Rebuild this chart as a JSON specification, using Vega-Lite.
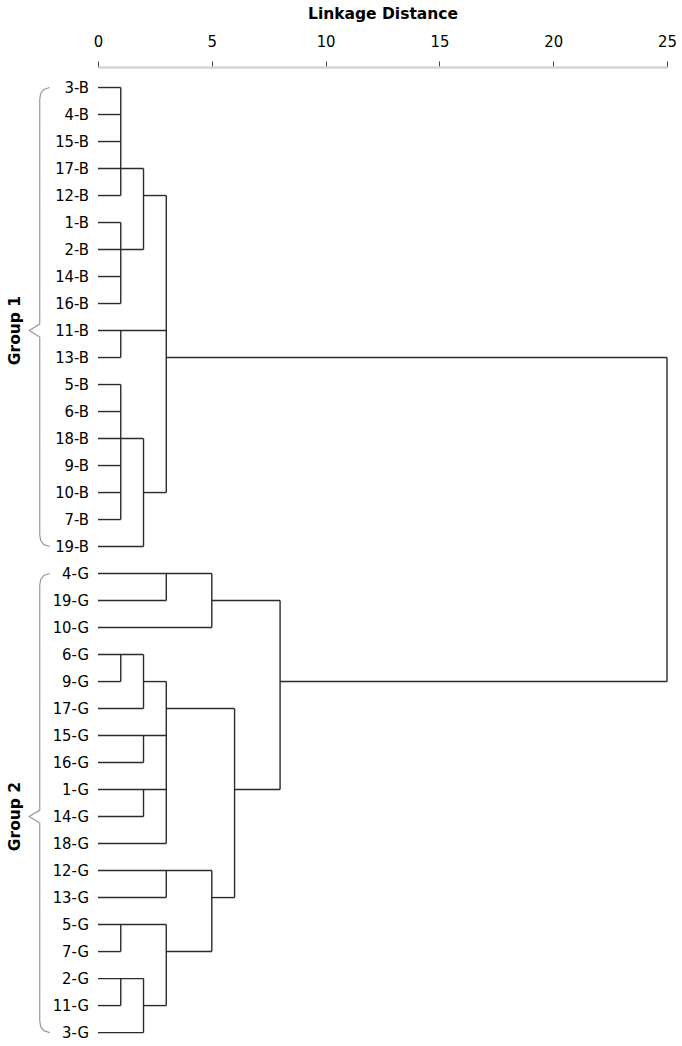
{
  "$schema": "https://vega.github.io/schema/vega-lite/v6.json",
  "width": 569,
  "height": 978,
  "autosize": "none",
  "padding": {"left": 98, "top": 67, "right": 15, "bottom": 1},
  "background": "white",
  "config": {"view": {"stroke": null}, "font": "DejaVu Sans"},
  "datasets": {
    "seg": [
      {"x": 0, "x2": 1, "y": 0, "y2": 0},
      {"x": 0, "x2": 1, "y": 1, "y2": 1},
      {"x": 0, "x2": 1, "y": 2, "y2": 2},
      {"x": 0, "x2": 2, "y": 3, "y2": 3},
      {"x": 0, "x2": 1, "y": 4, "y2": 4},
      {"x": 2, "x2": 3, "y": 4, "y2": 4},
      {"x": 0, "x2": 1, "y": 5, "y2": 5},
      {"x": 0, "x2": 2, "y": 6, "y2": 6},
      {"x": 0, "x2": 1, "y": 7, "y2": 7},
      {"x": 0, "x2": 1, "y": 8, "y2": 8},
      {"x": 0, "x2": 3, "y": 9, "y2": 9},
      {"x": 0, "x2": 1, "y": 10, "y2": 10},
      {"x": 3, "x2": 25, "y": 10, "y2": 10},
      {"x": 0, "x2": 1, "y": 11, "y2": 11},
      {"x": 0, "x2": 1, "y": 12, "y2": 12},
      {"x": 0, "x2": 2, "y": 13, "y2": 13},
      {"x": 0, "x2": 1, "y": 14, "y2": 14},
      {"x": 0, "x2": 1, "y": 15, "y2": 15},
      {"x": 2, "x2": 3, "y": 15, "y2": 15},
      {"x": 0, "x2": 1, "y": 16, "y2": 16},
      {"x": 0, "x2": 2, "y": 17, "y2": 17},
      {"x": 1, "x2": 1, "y": 0, "y2": 4},
      {"x": 1, "x2": 1, "y": 5, "y2": 8},
      {"x": 1, "x2": 1, "y": 9, "y2": 10},
      {"x": 1, "x2": 1, "y": 11, "y2": 16},
      {"x": 2, "x2": 2, "y": 3, "y2": 6},
      {"x": 2, "x2": 2, "y": 13, "y2": 17},
      {"x": 3, "x2": 3, "y": 4, "y2": 15},
      {"x": 25, "x2": 25, "y": 10, "y2": 22},
      {"x": 0, "x2": 5, "y": 18, "y2": 18},
      {"x": 0, "x2": 3, "y": 19, "y2": 19},
      {"x": 5, "x2": 8, "y": 19, "y2": 19},
      {"x": 0, "x2": 5, "y": 20, "y2": 20},
      {"x": 0, "x2": 2, "y": 21, "y2": 21},
      {"x": 0, "x2": 1, "y": 22, "y2": 22},
      {"x": 2, "x2": 3, "y": 22, "y2": 22},
      {"x": 8, "x2": 25, "y": 22, "y2": 22},
      {"x": 0, "x2": 2, "y": 23, "y2": 23},
      {"x": 3, "x2": 6, "y": 23, "y2": 23},
      {"x": 0, "x2": 3, "y": 24, "y2": 24},
      {"x": 0, "x2": 2, "y": 25, "y2": 25},
      {"x": 0, "x2": 3, "y": 26, "y2": 26},
      {"x": 6, "x2": 8, "y": 26, "y2": 26},
      {"x": 0, "x2": 2, "y": 27, "y2": 27},
      {"x": 0, "x2": 3, "y": 28, "y2": 28},
      {"x": 0, "x2": 5, "y": 29, "y2": 29},
      {"x": 0, "x2": 3, "y": 30, "y2": 30},
      {"x": 5, "x2": 6, "y": 30, "y2": 30},
      {"x": 0, "x2": 3, "y": 31, "y2": 31},
      {"x": 0, "x2": 1, "y": 32, "y2": 32},
      {"x": 3, "x2": 5, "y": 32, "y2": 32},
      {"x": 0, "x2": 2, "y": 33, "y2": 33},
      {"x": 0, "x2": 1, "y": 34, "y2": 34},
      {"x": 2, "x2": 3, "y": 34, "y2": 34},
      {"x": 0, "x2": 2, "y": 35, "y2": 35},
      {"x": 3, "x2": 3, "y": 18, "y2": 19},
      {"x": 3, "x2": 3, "y": 22, "y2": 28},
      {"x": 3, "x2": 3, "y": 29, "y2": 30},
      {"x": 3, "x2": 3, "y": 31, "y2": 34},
      {"x": 5, "x2": 5, "y": 18, "y2": 20},
      {"x": 5, "x2": 5, "y": 29, "y2": 32},
      {"x": 1, "x2": 1, "y": 21, "y2": 22},
      {"x": 1, "x2": 1, "y": 31, "y2": 32},
      {"x": 1, "x2": 1, "y": 33, "y2": 34},
      {"x": 2, "x2": 2, "y": 21, "y2": 23},
      {"x": 2, "x2": 2, "y": 24, "y2": 25},
      {"x": 2, "x2": 2, "y": 26, "y2": 27},
      {"x": 2, "x2": 2, "y": 33, "y2": 35},
      {"x": 6, "x2": 6, "y": 23, "y2": 30},
      {"x": 8, "x2": 8, "y": 19, "y2": 26}
    ],
    "leaves": [
      {"label": "3-B", "row": 0}, {"label": "4-B", "row": 1}, {"label": "15-B", "row": 2},
      {"label": "17-B", "row": 3}, {"label": "12-B", "row": 4}, {"label": "1-B", "row": 5},
      {"label": "2-B", "row": 6}, {"label": "14-B", "row": 7}, {"label": "16-B", "row": 8},
      {"label": "11-B", "row": 9}, {"label": "13-B", "row": 10}, {"label": "5-B", "row": 11},
      {"label": "6-B", "row": 12}, {"label": "18-B", "row": 13}, {"label": "9-B", "row": 14},
      {"label": "10-B", "row": 15}, {"label": "7-B", "row": 16}, {"label": "19-B", "row": 17},
      {"label": "4-G", "row": 18}, {"label": "19-G", "row": 19}, {"label": "10-G", "row": 20},
      {"label": "6-G", "row": 21}, {"label": "9-G", "row": 22}, {"label": "17-G", "row": 23},
      {"label": "15-G", "row": 24}, {"label": "16-G", "row": 25}, {"label": "1-G", "row": 26},
      {"label": "14-G", "row": 27}, {"label": "18-G", "row": 28}, {"label": "12-G", "row": 29},
      {"label": "13-G", "row": 30}, {"label": "5-G", "row": 31}, {"label": "7-G", "row": 32},
      {"label": "2-G", "row": 33}, {"label": "11-G", "row": 34}, {"label": "3-G", "row": 35}
    ],
    "brace": [
      {"g": "Group 1", "i": 1, "x": -2.12, "y": 0},
      {"g": "Group 1", "i": 2, "x": -2.38, "y": 0.07},
      {"g": "Group 1", "i": 3, "x": -2.52, "y": 0.22},
      {"g": "Group 1", "i": 4, "x": -2.56, "y": 0.45},
      {"g": "Group 1", "i": 5, "x": -2.56, "y": 8.76},
      {"g": "Group 1", "i": 6, "x": -3.02, "y": 9},
      {"g": "Group 1", "i": 7, "x": -2.56, "y": 9.24},
      {"g": "Group 1", "i": 8, "x": -2.56, "y": 16.55},
      {"g": "Group 1", "i": 9, "x": -2.52, "y": 16.78},
      {"g": "Group 1", "i": 10, "x": -2.38, "y": 16.93},
      {"g": "Group 1", "i": 11, "x": -2.12, "y": 17},
      {"g": "Group 2", "i": 1, "x": -2.12, "y": 18},
      {"g": "Group 2", "i": 2, "x": -2.38, "y": 18.07},
      {"g": "Group 2", "i": 3, "x": -2.52, "y": 18.22},
      {"g": "Group 2", "i": 4, "x": -2.56, "y": 18.45},
      {"g": "Group 2", "i": 5, "x": -2.56, "y": 26.76},
      {"g": "Group 2", "i": 6, "x": -3.02, "y": 27},
      {"g": "Group 2", "i": 7, "x": -2.56, "y": 27.24},
      {"g": "Group 2", "i": 8, "x": -2.56, "y": 34.55},
      {"g": "Group 2", "i": 9, "x": -2.52, "y": 34.78},
      {"g": "Group 2", "i": 10, "x": -2.38, "y": 34.93},
      {"g": "Group 2", "i": 11, "x": -2.12, "y": 35}
    ],
    "groups": [
      {"g": "Group 1", "mid": 9},
      {"g": "Group 2", "mid": 27}
    ]
  },
  "layer": [
    {
      "data": {"name": "seg"},
      "mark": {"type": "rule", "color": "#2b2b2b", "strokeWidth": 1.4},
      "encoding": {
        "x": {
          "field": "x", "type": "quantitative",
          "scale": {"domain": [0, 25], "nice": false, "zero": false},
          "axis": {
            "orient": "top", "title": "Linkage Distance", "values": [0, 5, 10, 15, 20, 25],
            "grid": false, "domainColor": "#d4d4d4", "domainWidth": 2.5,
            "tickColor": "#444444", "tickSize": 6, "tickWidth": 1,
            "labelFont": "DejaVu Sans Condensed", "labelFontSize": 16.5, "labelColor": "#000000",
            "labelPadding": 12, "labelFlush": false,
            "titleFont": "DejaVu Sans", "titleFontSize": 15.5, "titleFontWeight": "bold",
            "titlePadding": 12, "titleColor": "#000000"
          }
        },
        "x2": {"field": "x2"},
        "y": {
          "field": "y", "type": "quantitative",
          "scale": {"domain": [-0.76, 35.46], "reverse": true, "nice": false, "zero": false},
          "axis": null
        },
        "y2": {"field": "y2"}
      }
    },
    {
      "data": {"name": "leaves"},
      "mark": {"type": "text", "align": "right", "baseline": "middle", "dx": -9, "fontSize": 16.5, "font": "DejaVu Sans Condensed", "color": "#000000"},
      "encoding": {
        "x": {"datum": 0, "type": "quantitative"},
        "y": {"field": "row", "type": "quantitative"},
        "text": {"field": "label"}
      }
    },
    {
      "data": {"name": "brace"},
      "mark": {"type": "line", "color": "#9a9a9a", "strokeWidth": 1.2},
      "encoding": {
        "x": {"field": "x", "type": "quantitative"},
        "y": {"field": "y", "type": "quantitative"},
        "detail": {"field": "g"},
        "order": {"field": "i", "type": "quantitative"}
      }
    },
    {
      "data": {"name": "groups"},
      "mark": {"type": "text", "angle": 270, "align": "center", "baseline": "middle", "fontSize": 15.5, "fontWeight": "bold", "font": "DejaVu Sans", "color": "#000000"},
      "encoding": {
        "x": {"datum": -3.66, "type": "quantitative"},
        "y": {"field": "mid", "type": "quantitative"},
        "text": {"field": "g"}
      }
    }
  ]
}
